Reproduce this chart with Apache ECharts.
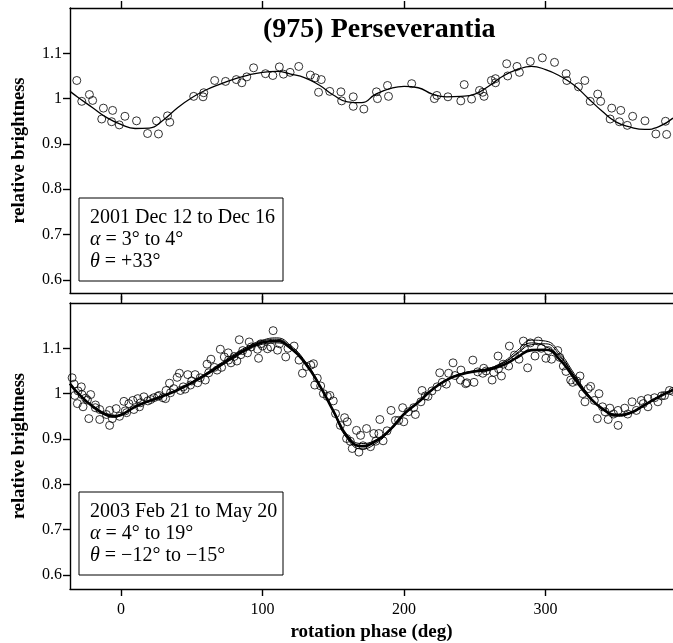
<!DOCTYPE html>
<html>
<head>
<meta charset="utf-8">
<script src="https://cdn.jsdelivr.net/npm/echarts@6/dist/echarts.min.js"></script>
<style>
  html, body { margin: 0; padding: 0; background: #fff; }
  #chart { width: 673px; height: 643px; }
</style>
</head>
<body>
<div id="chart"></div>
<script>
// x ticks and y ticks
const phaseTicks = [0, 100, 200, 300]
const brightTicks = [0.6, 0.7, 0.8, 0.9, 1, 1.1]

// 2001 Dec observations [phase, brightness]
const obs2001 = [
  [-31.2, 1.040], [-27.7, 0.994], [-22.3, 1.009], [-20, 0.996], [-13.6, 0.955], [-12.4, 0.979],
  [-6.6, 0.949], [-5.9, 0.974], [-1.2, 0.942], [2.8, 0.961], [11, 0.951], [18.8, 0.923],
  [25.1, 0.951], [26.5, 0.922], [32.9, 0.962], [34.5, 0.948], [51.4, 1.005], [58, 1.004],
  [58.5, 1.013], [66.2, 1.040], [73.9, 1.038], [81.5, 1.042], [85.4, 1.035], [88.9, 1.048],
  [93.7, 1.068], [102.1, 1.055], [107.3, 1.051], [111.9, 1.070], [114.8, 1.054], [119.5, 1.058],
  [125.6, 1.071], [133.8, 1.052], [137.3, 1.046], [139.6, 1.014], [141.5, 1.042], [147.5, 1.016],
  [155.4, 1.015], [155.9, 0.995], [164.1, 1.004], [164.1, 0.983], [171.6, 0.977], [180.5, 1.015],
  [181.2, 1.000], [188.3, 1.029], [189, 1.005], [205.4, 1.033], [221.4, 1.000], [223.2, 1.007],
  [231, 1.004], [240.1, 0.995], [242.5, 1.031], [247.7, 0.999], [253.3, 1.018], [255.6, 1.014],
  [256.5, 1.005], [261.7, 1.040], [264.6, 1.035], [264.6, 1.044], [272.5, 1.077], [273.2, 1.050],
  [279.8, 1.071], [281.5, 1.058], [289.2, 1.082], [297.7, 1.090], [306.3, 1.080], [314.5, 1.055],
  [315, 1.040], [323.2, 1.026], [327.7, 1.040], [331.5, 0.994], [336.8, 1.010], [338.9, 0.994],
  [346.7, 0.979], [345.6, 0.955], [353.1, 0.974], [352.1, 0.949], [357.7, 0.941], [361.5, 0.961],
  [370.2, 0.951], [377.9, 0.922], [384.7, 0.950], [385.5, 0.921]
]

// 2001 fitted curve
const fit2001 = [
  [-36, 1.016], [-30, 1.002], [-20, 0.980], [-10, 0.958], [0, 0.943], [10, 0.934], [20, 0.935],
  [30, 0.953], [40, 0.980], [50, 1.002], [60, 1.019], [70, 1.032], [80, 1.043], [90, 1.052],
  [100, 1.058], [110, 1.060], [120, 1.054], [130, 1.046], [140, 1.030], [150, 1.008], [160, 0.993],
  [170, 0.991], [180, 1.010], [190, 1.022], [200, 1.027], [210, 1.024], [220, 1.010], [230, 1.004],
  [240, 1.005], [250, 1.010], [260, 1.028], [270, 1.050], [280, 1.064], [290, 1.071], [300, 1.064],
  [310, 1.050], [320, 1.030], [330, 1.001], [340, 0.972], [350, 0.948], [360, 0.937], [370, 0.932],
  [380, 0.938], [390, 0.957]
]

// 2003 Feb-May observations
const obs2003 = [
  [-34.5, 1.035], [-33.1, 1.021], [-30.3, 1.006], [-28, 1.015], [-32.6, 0.996], [-27.5, 0.998],
  [-30.8, 0.978], [-26.8, 0.971], [-23.7, 0.986], [-21.4, 0.998], [-22.7, 0.945], [-18.1, 0.969],
  [-15, 0.965], [-15, 0.943], [-10.3, 0.954], [-8, 0.963], [-8, 0.930], [-6.1, 0.945], [-3.4, 0.967],
  [2.1, 0.983], [3, 0.962], [5.6, 0.978], [8.4, 0.985], [9.1, 0.965], [11.9, 0.989], [13.1, 0.971],
  [16.2, 0.993], [19, 0.984], [23.2, 0.991], [26, 0.994], [29.6, 0.991], [31.5, 0.989], [31.9, 1.007],
  [34.3, 1.023], [37.3, 1.011], [39.7, 1.036], [41.3, 1.045], [42, 1.007], [45.3, 1.010], [47.2, 1.042],
  [49.1, 1.019], [52.4, 1.042], [54.2, 1.024], [59.6, 1.030], [60.8, 1.065], [63.6, 1.076], [67.9, 1.052],
  [70.2, 1.098], [71.1, 1.058], [73, 1.081], [75.8, 1.090], [77.7, 1.068], [81.9, 1.072], [83.6, 1.119],
  [84.7, 1.086], [89.4, 1.090], [90.6, 1.114], [96.5, 1.098], [97.2, 1.078], [98.8, 1.110], [103.5, 1.099],
  [107.5, 1.139], [-1, 0.950], [4, 0.958], [14, 0.980], [21, 0.987], [27, 0.996], [35, 1.002], [44, 1.015],
  [50, 1.028], [56, 1.035], [62, 1.046], [66, 1.058], [76, 1.074], [80, 1.082], [86, 1.095], [92, 1.103],
  [100, 1.105], [-18, 0.975], [-25, 0.990],
  [105.9, 1.103], [110.6, 1.096], [116.4, 1.081], [122.3, 1.105], [125.8, 1.074], [128.2, 1.045],
  [134.1, 1.063], [136, 1.066], [136.9, 1.019], [138.7, 1.034], [141.1, 1.017], [145.8, 0.994],
  [147.6, 0.996], [150, 0.984], [151.6, 0.956], [158, 0.947], [159.9, 0.938], [159.4, 0.901],
  [163.4, 0.879], [166.4, 0.919], [168.1, 0.871], [169.3, 0.908], [173.5, 0.923], [176.3, 0.883],
  [178.6, 0.912], [182.2, 0.912], [182.9, 0.943], [185.2, 0.896], [190.8, 0.963], [193.9, 0.941],
  [196.2, 0.941], [199, 0.969], [199.8, 0.938], [206.8, 0.969], [208, 0.954], [211.9, 0.982],
  [212.7, 1.007], [216.9, 0.994], [219.7, 1.006], [223.3, 1.015], [225.2, 1.046], [229.9, 1.021],
  [231.5, 1.045], [234.6, 1.068], [239.8, 1.030], [240.2, 1.052], [244.4, 1.024],
  [112, 1.110], [118, 1.100], [131, 1.060], [143, 1.000], [155, 0.930], [162, 0.895], [171, 0.885],
  [180, 0.895], [188, 0.918], [203, 0.960], [215, 0.995], [227, 1.025], [236, 1.040],
  [248.6, 1.074], [243.5, 1.022], [249.4, 1.025], [256.3, 1.056], [255.6, 1.045], [262.2, 1.030],
  [263.4, 1.047], [266.4, 1.083], [268.8, 1.039], [266.7, 1.055], [273.9, 1.061], [274.4, 1.105],
  [281.2, 1.076], [284.3, 1.116], [287.3, 1.057], [292.5, 1.083], [294.8, 1.116], [289.2, 1.112],
  [300.2, 1.078], [304.2, 1.076], [308.6, 1.095], [312.5, 1.061], [314.4, 1.049], [317.7, 1.030],
  [319.1, 1.025], [324.3, 1.039], [326.2, 1.000], [327.8, 0.982], [330.1, 1.011], [331.8, 1.016],
  [334.4, 0.985], [336.5, 0.945], [337.7, 1.000], [340.2, 0.971], [344.2, 0.943], [345.4, 0.968],
  [351.2, 0.930], [351.2, 0.963], [355.9, 0.968], [361.1, 0.982], [364.1, 0.963], [367.6, 0.985],
  [372.3, 0.989], [372.3, 0.971], [377, 0.991], [379.3, 0.982], [384, 0.996], [387.5, 1.007],
  [252, 1.048], [258, 1.050], [270, 1.065], [278, 1.085], [285, 1.100], [297, 1.100], [302, 1.095],
  [310, 1.080], [322, 1.028], [342, 0.960], [348, 0.955], [358, 0.955], [369, 0.978], [382, 0.995],
  [390, 1.005]
]

// 2003 fitted curves (one heavy, three light)
const fit2003 = [
  [-36, 1.022], [-30, 1.000], [-20, 0.972], [-10, 0.953], [-5, 0.950], [0, 0.953], [10, 0.971],
  [20, 0.984], [30, 0.995], [40, 1.008], [50, 1.024], [60, 1.042], [70, 1.062], [80, 1.082],
  [90, 1.100], [100, 1.113], [110, 1.116], [120, 1.100], [130, 1.068], [140, 1.020], [150, 0.962],
  [160, 0.905], [170, 0.884], [180, 0.895], [190, 0.920], [200, 0.955], [210, 0.981], [220, 1.009],
  [230, 1.030], [240, 1.042], [250, 1.049], [260, 1.053], [270, 1.063], [280, 1.080], [290, 1.096],
  [300, 1.097], [310, 1.075], [320, 1.035], [330, 0.995], [340, 0.967], [350, 0.953], [360, 0.958],
  [370, 0.975], [380, 0.993], [390, 1.008]
]
const fit2003a = [
  [-36, 1.024], [-30, 1.001], [-20, 0.971], [-10, 0.951], [-5, 0.948], [0, 0.952], [10, 0.970],
  [20, 0.983], [30, 0.995], [40, 1.009], [50, 1.026], [60, 1.045], [70, 1.066], [80, 1.087],
  [90, 1.105], [100, 1.118], [110, 1.123], [120, 1.106], [130, 1.072], [140, 1.022], [150, 0.960],
  [160, 0.900], [170, 0.878], [180, 0.890], [190, 0.918], [200, 0.953], [210, 0.980], [220, 1.008],
  [230, 1.030], [240, 1.043], [250, 1.050], [260, 1.056], [270, 1.070], [280, 1.095], [290, 1.118],
  [300, 1.116], [310, 1.090], [320, 1.045], [330, 0.999], [340, 0.966], [350, 0.950], [360, 0.956],
  [370, 0.974], [380, 0.993], [390, 1.010]
]
const fit2003b = [
  [-36, 1.020], [-30, 0.999], [-20, 0.973], [-10, 0.955], [-5, 0.952], [0, 0.955], [10, 0.972],
  [20, 0.985], [30, 0.996], [40, 1.008], [50, 1.023], [60, 1.041], [70, 1.060], [80, 1.079],
  [90, 1.097], [100, 1.109], [110, 1.112], [120, 1.098], [130, 1.066], [140, 1.019], [150, 0.963],
  [160, 0.908], [170, 0.890], [180, 0.898], [190, 0.922], [200, 0.956], [210, 0.982], [220, 1.010],
  [230, 1.031], [240, 1.043], [250, 1.050], [260, 1.055], [270, 1.067], [280, 1.088], [290, 1.108],
  [300, 1.110], [310, 1.085], [320, 1.041], [330, 0.998], [340, 0.968], [350, 0.954], [360, 0.959],
  [370, 0.976], [380, 0.994], [390, 1.007]
]
const fit2003c = [
  [-36, 1.021], [-30, 1.000], [-20, 0.972], [-10, 0.952], [-5, 0.949], [0, 0.953], [10, 0.971],
  [20, 0.984], [30, 0.996], [40, 1.009], [50, 1.025], [60, 1.044], [70, 1.064], [80, 1.085],
  [90, 1.103], [100, 1.116], [110, 1.120], [120, 1.103], [130, 1.070], [140, 1.021], [150, 0.961],
  [160, 0.903], [170, 0.886], [180, 0.894], [190, 0.919], [200, 0.954], [210, 0.981], [220, 1.009],
  [230, 1.031], [240, 1.044], [250, 1.051], [260, 1.056], [270, 1.068], [280, 1.090], [290, 1.112],
  [300, 1.104], [310, 1.082], [320, 1.040], [330, 0.997], [340, 0.966], [350, 0.952], [360, 0.957],
  [370, 0.975], [380, 0.994], [390, 1.009]
]

const serif = '"Liberation Serif", "DejaVu Serif", serif'
const chart = echarts.init(document.getElementById('chart'))

const xAxisBase = (gridIndex, position, showLabel, extra) => Object.assign({
  type: 'value',
  gridIndex,
  position,
  min: -36,
  max: 390,
  splitLine: { show: false },
  axisLine: { onZero: false, lineStyle: { color: '#000', width: 1.4 } },
  axisTick: { show: true, inside: false, length: 7, customValues: phaseTicks, lineStyle: { color: '#000', width: 1.4 } },
  axisLabel: {
    show: showLabel,
    customValues: phaseTicks,
    margin: 13,
    color: '#000',
    fontFamily: serif,
    fontSize: 16
  }
}, extra || {})

const yAxisBase = (gridIndex, min) => ({
  type: 'value',
  gridIndex,
  min,
  max: 1.2,
  splitLine: { show: false },
  name: 'relative brightness',
  nameLocation: 'middle',
  nameGap: 41,
  nameRotate: 90,
  nameTextStyle: { fontFamily: serif, fontWeight: 'bold', fontSize: 18.5, color: '#000' },
  axisLine: { show: true, onZero: false, lineStyle: { color: '#000', width: 1.4 } },
  axisTick: { show: true, inside: false, length: 7, customValues: brightTicks, lineStyle: { color: '#000', width: 1.4 } },
  axisLabel: {
    customValues: brightTicks,
    margin: 8,
    color: '#000',
    fontFamily: serif,
    fontSize: 16,
    formatter: v => String(+v.toFixed(2))
  }
})

const obsStyle = {
  color: 'transparent',
  borderColor: '#000',
  borderWidth: 1
}

const legendBox = (top, lines) => [
  {
    type: 'rect',
    shape: { x: 79, y: top, width: 204, height: 83 },
    style: { fill: '#fff', stroke: '#000', lineWidth: 1 }
  }
].concat(lines.map((t, i) => ({
  type: 'text',
  x: 90,
  y: top + 20 + i * 22,
  style: {
    text: t,
    fill: '#000',
    fontFamily: serif,
    fontSize: 20,
    verticalAlign: 'middle',
    rich: { i: { fontStyle: 'italic', fontFamily: serif, fontSize: 20 } }
  }
})))

chart.setOption({
  animation: false,
  backgroundColor: '#fff',
  title: {
    text: '(975) Perseverantia',
    left: 258,
    top: 11,
    textStyle: { fontFamily: serif, fontWeight: 'bold', fontSize: 28, color: '#000' }
  },
  grid: [
    { left: 70, right: -2, top: 8, height: 285 },
    { left: 70, right: -2, top: 303, height: 286 }
  ],
  xAxis: [
    xAxisBase(0, 'bottom', false),
    xAxisBase(0, 'top', false),
    xAxisBase(1, 'top', false),
    xAxisBase(1, 'bottom', true, {
      name: 'rotation phase (deg)',
      nameLocation: 'middle',
      nameGap: 34,
      nameTextStyle: { fontFamily: serif, fontWeight: 'bold', fontSize: 19, color: '#000' }
    })
  ],
  yAxis: [
    yAxisBase(0, 0.571),
    yAxisBase(1, 0.569)
  ],
  series: [
    {
      type: 'line', xAxisIndex: 0, yAxisIndex: 0, data: fit2001, smooth: true,
      showSymbol: false, lineStyle: { color: '#000', width: 1.3 }
    },
    {
      type: 'scatter', xAxisIndex: 0, yAxisIndex: 0, data: obs2001,
      symbol: 'circle', symbolSize: 8, itemStyle: obsStyle
    },
    {
      type: 'line', xAxisIndex: 3, yAxisIndex: 1, data: fit2003a, smooth: true,
      showSymbol: false, lineStyle: { color: '#000', width: 1 }
    },
    {
      type: 'line', xAxisIndex: 3, yAxisIndex: 1, data: fit2003b, smooth: true,
      showSymbol: false, lineStyle: { color: '#000', width: 1 }
    },
    {
      type: 'line', xAxisIndex: 3, yAxisIndex: 1, data: fit2003c, smooth: true,
      showSymbol: false, lineStyle: { color: '#000', width: 1 }
    },
    {
      type: 'scatter', xAxisIndex: 3, yAxisIndex: 1, data: obs2003,
      symbol: 'circle', symbolSize: 8, itemStyle: obsStyle
    },
    {
      type: 'line', xAxisIndex: 3, yAxisIndex: 1, data: fit2003, smooth: true,
      showSymbol: false, lineStyle: { color: '#000', width: 2.6 }
    }
  ],
  graphic: legendBox(198, [
    '2001 Dec 12 to Dec 16',
    '{i|α} = 3° to 4°',
    '{i|θ} = +33°'
  ]).concat(legendBox(492, [
    '2003 Feb 21 to May 20',
    '{i|α} = 4° to 19°',
    '{i|θ} = −12° to −15°'
  ]))
})
</script>
</body>
</html>
